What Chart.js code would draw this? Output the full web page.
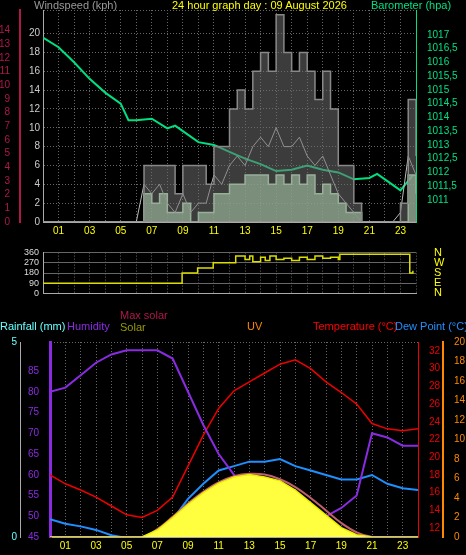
<!DOCTYPE html>
<html><head><meta charset="utf-8">
<script src="https://cdn.jsdelivr.net/npm/chart.js@4/dist/chart.umd.min.js"></script>
<style>
body{margin:0;background:#000;width:466px;height:555px;overflow:hidden;font-family:"Liberation Sans",sans-serif;}
.p{position:absolute;left:0;width:466px}
.t{position:absolute;font-size:11px;white-space:nowrap}
</style></head><body>
<div class="p" style="top:0;height:240px"><canvas id="c1"></canvas></div>
<div class="p" style="top:236px;height:74px"><canvas id="c2"></canvas></div>
<div class="p" style="top:320px;height:235px"><canvas id="c3"></canvas></div>
<span class="t" style="left:34px;top:-1px;color:#999">Windspeed (kph)</span>
<span class="t" style="left:172px;top:-1px;color:#ff0">24 hour graph day : 09 August 2026</span>
<span class="t" style="left:371px;top:-1px;color:#00e080">Barometer (hpa)</span>
<span class="t" style="left:0;top:320px;color:#6ff">Rainfall (mm)</span>
<span class="t" style="left:67px;top:320px;color:#8a2be2">Humidity</span>
<span class="t" style="left:120px;top:309px;color:#b0184a">Max solar</span>
<span class="t" style="left:120px;top:321px;color:#990">Solar</span>
<span class="t" style="left:247px;top:320px;color:#f80">UV</span>
<span class="t" style="left:313px;top:320px;color:#f00">Temperature (°C)</span>
<span class="t" style="left:395px;top:320px;color:#1e90ff">Dew Point (°C)</span>
<script>
// ---- data ----
const hoursHalf = [];
for (let i = 0; i <= 48; i++) hoursHalf.push(i / 2);
const gust = [0,0,0,0,0,0,0,0,0,0,0,0,0,6,6,6,6,3,6,6,6,4,8,8,12,14,12,16,18,16,22,18,16,18,16,13,16,12,6,6,2,0,0,0,0,0,2,13,7];
const windAvg = [0,0,0,0,0,0,0,0,0,0,0,0,0,3,2,3,1,1,2,0,1,1,3,3,4,4,5,5,5,4,5,4,5,4,5,3,4,3,2,1,1,0,0,0,0,0,0,5,3];
const windSpd = [0,0,0,0,0,0,0,0,0,0,0,0,0,4,3,4,2,1,3,1,2,2,5,4,6,7,6,8,9,8,10,8,8,9,7,6,7,5,3,2,1,0,0,0,0,0,1,7,5];
const baroHours = [0,1,2,3,4,5,5.5,6,7,8,8.5,9,10,11,12,13,14,15,16,17,18,19,20,21,21.5,22,23,23.8];
const baro = [1016.9,1016.55,1016,1015.4,1014.9,1014.5,1013.9,1013.9,1013.95,1013.6,1013.7,1013.5,1013.1,1013,1012.75,1012.5,1012.3,1012.05,1012.1,1012.25,1012.1,1012,1011.75,1011.8,1011.95,1011.75,1011.35,1011.9];
const dirHours = [0,8.9,8.95,9.9,9.95,10.9,10.95,12,12.4,13,13.3,13.5,14,14.3,14.6,15,15.5,16,16.5,17,17.5,18,18.5,19,19.1,23.5,23.6,23.8];
const dir = [90,90,180,180,225,225,270,270,330,300,330,280,320,290,330,300,310,290,320,300,330,310,320,300,345,345,180,200];
const hours = [0,1,2,3,4,5,6,7,8,9,10,11,12,13,14,15,16,17,18,19,20,21,22,23,24];
const humidity = [80,81,84,87,89,90,90,90,88,80,72,65,60,56,53,50,48,49,50,52,55,70,69,67,67];
const temp = [18,17,16.3,15.5,14.5,13.5,13.2,14,15.5,19,22.5,25.5,27.5,28.5,29.5,30.5,31,30,28.5,27.3,26,23.8,23.2,23,23.2];
const dew = [13,12.5,12.2,11.8,11.2,10.9,10.8,11.8,13,15.3,17,18.5,19,19.5,19.5,19.8,19,18.5,18,17.5,17.5,18,17,16.5,16.3];
const uv = [0,0,0,0,0,0,0,0.3,0.8,1.5,2.5,3.5,4.5,5,5,4.5,4,2.5,1.5,0.5,0,0,0,0,0];
const maxSolar = [0,0,0,0,0,0,0,100,260,430,580,700,780,810,800,740,640,500,340,180,60,0,0,0,0];
const solar = [0,0,0,0,0,0,0,90,250,420,570,690,770,800,770,720,600,440,280,120,30,0,0,0,0];
const rain = hours.map(() => 0);

const pts = (xs, ys) => xs.map((x, i) => ({x, y: ys[i]}));
const F = {family: 'Liberation Sans', size: 10};
const grid = {color: '#666', drawTicks: false};
const dotted = {color: '#aaa', dash: [1, 2]};
const fixW = w => function (s) { s.width = w; };
// keep only ticks that are multiples of step from base
const only = (step, fmt) => v => (Math.abs(v / step - Math.round(v / step)) < 1e-6) ? (fmt ? fmt(v) : v) : '';
const xAxis = (show) => ({
  type: 'linear', min: 0, max: 24,
  grid: grid, border: dotted,
  ticks: {stepSize: 1, display: show, color: '#ff0', font: F, maxRotation: 0, autoSkip: false,
    callback: v => v % 2 === 1 ? String(v).padStart(2, '0') : ''}
});
const base = {responsive: true, maintainAspectRatio: false, animation: false,
  plugins: {legend: {display: false}, tooltip: {enabled: false}},
  elements: {point: {radius: 0}, line: {borderWidth: 1.5, tension: 0}}};

new Chart(document.getElementById('c1'), {
  type: 'line',
  data: {datasets: [
    {data: pts(hoursHalf, gust), borderColor: '#888', backgroundColor: 'rgba(110,110,110,0.55)', fill: 'origin', stepped: true, yAxisID: 'w'},
    {data: pts(hoursHalf, windSpd), borderColor: '#bbb', borderWidth: 1, yAxisID: 'w'},
    {data: pts(hoursHalf, windAvg), borderColor: '#cfc', backgroundColor: 'rgba(200,255,200,0.7)', fill: 'origin', stepped: true, yAxisID: 'w'},
    {data: pts([0, 24], [0, 0]), borderColor: '#b0306a', borderWidth: 2, yAxisID: 'w'},
    {data: pts(baroHours, baro), borderColor: '#00e080', borderWidth: 2, yAxisID: 'b'}
  ]},
  options: {...base, layout: {padding: {top: 10}},
    scales: {
      x: xAxis(true),
      w: {position: 'left', min: 0, max: 22.5, afterFit: fixW(23), grid: grid, border: dotted,
        ticks: {stepSize: 2, color: '#ccc', font: F, padding: 3, autoSkip: false, callback: only(2)}},
      r: {position: 'left', min: 0, max: 15.5, afterFit: fixW(20), grid: {display: false}, border: {color: '#b0184a', width: 2},
        ticks: {stepSize: 1, color: '#b0184a', font: F, padding: 2, autoSkip: false, callback: only(1)}},
      b: {position: 'right', min: 1010.2, max: 1017.9, afterFit: fixW(50), grid: {display: false}, border: {color: '#00e080'},
        ticks: {stepSize: 0.5, color: '#00e080', font: F, padding: 3, autoSkip: false,
          callback: only(0.5, v => String(+v.toFixed(1)).replace('.', ','))}}
    }}
});

new Chart(document.getElementById('c2'), {
  type: 'line',
  data: {datasets: [
    {data: pts(dirHours, dir), borderColor: '#dd0', borderWidth: 1.5, stepped: true, yAxisID: 'd'}
  ]},
  options: {...base, layout: {padding: {top: 6, bottom: 4}},
    scales: {
      x: {...xAxis(false), ticks: {display: false, stepSize: 1}},
      d: {position: 'left', min: 0, max: 360, afterFit: fixW(43), grid: {color: '#666', drawTicks: false}, border: {color: '#aaa'},
        ticks: {stepSize: 90, color: '#ddd', font: {family: 'Liberation Sans', size: 9}, padding: 4, autoSkip: false}},
      n: {position: 'right', min: 0, max: 360, afterFit: fixW(50), grid: {display: false}, border: {display: false},
        ticks: {stepSize: 90, color: '#ff0', font: {family: 'Liberation Sans', size: 11}, padding: 10, autoSkip: false,
          callback: v => ({0: 'N', 90: 'E', 180: 'S', 270: 'W', 360: 'N'})[v]}}
    }}
});

new Chart(document.getElementById('c3'), {
  type: 'line',
  data: {datasets: [
    {data: pts(hours, solar), borderColor: '#ee0', backgroundColor: '#ffff40', fill: 'origin', yAxisID: 's'},
    {data: pts(hours, maxSolar), borderColor: '#c06070', borderWidth: 2, yAxisID: 's', tension: 0.4},
    {data: pts(hours, uv), borderColor: '#f80', yAxisID: 'u'},
    {data: pts(hours, rain), borderColor: '#6ff', borderWidth: 2, yAxisID: 'rf'},
    {data: pts(hours, humidity), borderColor: '#8a2be2', borderWidth: 2, yAxisID: 'h'},
    {data: pts(hours, dew), borderColor: '#1e90ff', borderWidth: 2, yAxisID: 't'},
    {data: pts(hours, temp), borderColor: '#e00', borderWidth: 1.5, yAxisID: 't'}
  ]},
  options: {...base, layout: {padding: {top: 22}},
    scales: {
      x: xAxis(true),
      h: {position: 'left', min: 45, max: 92, afterFit: fixW(30), grid: {display: false}, border: {color: '#8a2be2', width: 3},
        ticks: {stepSize: 5, color: '#8a2be2', font: F, padding: 3, autoSkip: false, callback: only(5)}},
      rf: {position: 'left', min: 0, max: 5, afterFit: fixW(20), grid: grid, border: dotted,
        ticks: {stepSize: 5, color: '#6ff', font: F, padding: 3}},
      t: {position: 'right', min: 11, max: 33, afterFit: fixW(25), grid: {display: false}, border: {color: '#e00'},
        ticks: {stepSize: 1, color: '#e00', font: F, padding: 3, autoSkip: false, callback: only(2)}},
      u: {position: 'right', min: 0, max: 20, afterFit: fixW(23), grid: {display: false}, border: {color: '#f80', width: 2},
        ticks: {stepSize: 2, color: '#f80', font: F, padding: 3, autoSkip: false}},
      s: {display: false, min: 0, max: 2500}
    }}
});
</script>
</body></html>
